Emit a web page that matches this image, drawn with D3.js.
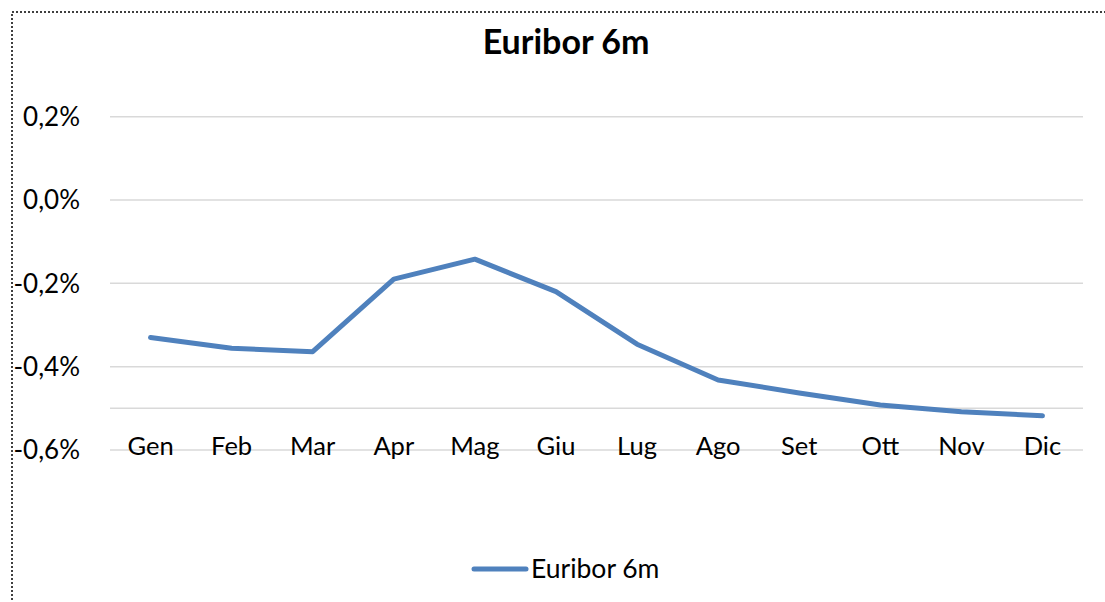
<!DOCTYPE html>
<html><head><meta charset="utf-8">
<script src="https://cdn.jsdelivr.net/npm/d3@7"></script>
<style>body{margin:0;background:#fff;} text{font-family:Lato,"Open Sans",sans-serif;}</style>
</head><body><svg id="c" width="1105" height="602"></svg>
<script>
const months = ["Gen","Feb","Mar","Apr","Mag","Giu","Lug","Ago","Set","Ott","Nov","Dic"];
const euribor6m = [-0.330,-0.356,-0.364,-0.190,-0.142,-0.220,-0.346,-0.432,-0.463,-0.492,-0.508,-0.518];
const yTicks = [0.2,0.0,-0.2,-0.4,-0.6];
const axisCross = -0.5;
const title = "Euribor 6m";
const seriesName = "Euribor 6m";

const svg = d3.select("#c");
svg.append("rect").attr("x",12).attr("y",12).attr("width",1200).attr("height",700)
  .attr("fill","none").attr("stroke","#000").attr("stroke-width",1.5).attr("stroke-dasharray","2,2");

const x = d3.scaleBand().domain(months).range([110,1083]);
const y = d3.scaleLinear().domain([-0.6,0.2]).range([450,116.7]);
const fmt = v => (v.toFixed(1).replace(".",",")) + "%";

const g = svg.append("g");
g.selectAll("line.grid").data(yTicks.concat([axisCross])).join("line")
  .attr("x1",110).attr("x2",1083).attr("y1",d=>y(d)).attr("y2",d=>y(d))
  .attr("stroke","#d9d9d9").attr("stroke-width",1.5);

g.selectAll("text.yl").data(yTicks).join("text")
  .attr("x",80).attr("y",d=>y(d)).attr("dy","0.36em").attr("text-anchor","end")
  .attr("font-size",26).attr("fill","#000").text(d=>fmt(d === 0 ? 0 : d));

g.selectAll("text.xl").data(months).join("text")
  .attr("x",d=>x(d)+x.bandwidth()/2).attr("y",y(axisCross)+47).attr("text-anchor","middle")
  .attr("font-size",25.5).attr("fill","#000").text(d=>d);

const line = d3.line().x((d,i)=>x(months[i])+x.bandwidth()/2).y(d=>y(d));
g.append("path").datum(euribor6m).attr("d",line).attr("fill","none")
  .attr("stroke","#4f81bd").attr("stroke-width",5).attr("stroke-linecap","round").attr("stroke-linejoin","round");

svg.append("text").attr("x",566).attr("y",54).attr("text-anchor","middle")
  .attr("font-size",34).attr("font-weight","bold").attr("fill","#000").text(title);

svg.append("line").attr("x1",474).attr("x2",526).attr("y1",569).attr("y2",569)
  .attr("stroke","#4f81bd").attr("stroke-width",5).attr("stroke-linecap","round");
svg.append("text").attr("x",531).attr("y",578).attr("font-size",26.5).attr("fill","#000").text(seriesName);
</script></body></html>
